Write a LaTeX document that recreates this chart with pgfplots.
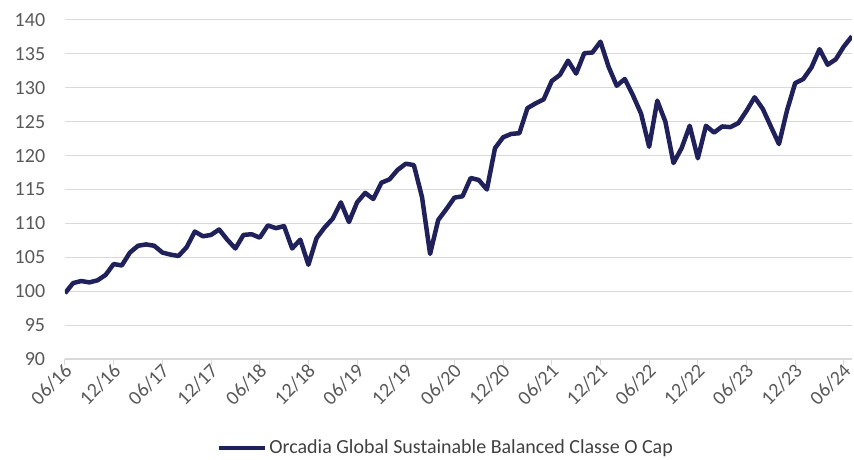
\documentclass[border=0pt]{standalone}
\usepackage{pgfplots}
\pgfplotsset{compat=1.18}
\usepackage{fontspec}
\setmainfont{Carlito}
\definecolor{navy}{RGB}{32,33,90}
\definecolor{gridgray}{RGB}{217,217,217}
\definecolor{txtgray}{RGB}{89,89,89}
\pgfplotstableread{
m v
0 99.7
1 101.2
2 101.5
3 101.3
4 101.6
5 102.4
6 104.0
7 103.8
8 105.7
9 106.7
10 106.9
11 106.7
12 105.7
13 105.4
14 105.2
15 106.5
16 108.8
17 108.1
18 108.3
19 109.1
20 107.6
21 106.3
22 108.3
23 108.4
24 107.9
25 109.7
26 109.3
27 109.6
28 106.3
29 107.6
30 103.9
31 107.8
32 109.4
33 110.7
34 113.1
35 110.2
36 113.1
37 114.5
38 113.6
39 116.0
40 116.5
41 117.9
42 118.8
43 118.6
44 113.9
45 105.5
46 110.5
47 112.1
48 113.8
49 114.0
50 116.7
51 116.4
52 115.0
53 121.1
54 122.7
55 123.2
56 123.3
57 127.0
58 127.7
59 128.3
60 131.0
61 131.9
62 134.0
63 132.1
64 135.1
65 135.2
66 136.8
67 133.1
68 130.3
69 131.3
70 128.9
71 126.2
72 121.3
73 128.1
74 125.0
75 118.9
76 121.1
77 124.4
78 119.6
79 124.4
80 123.4
81 124.3
82 124.2
83 124.8
84 126.6
85 128.6
86 126.9
87 124.3
88 121.7
89 126.7
90 130.7
91 131.3
92 133.0
93 135.7
94 133.4
95 134.2
96 136.1
97 137.6
}\datatable
\begin{document}
\fontsize{20}{24}\selectfont
\begin{tikzpicture}
\path[use as bounding box] (-65pt,-101pt) rectangle (789pt,359pt);
\begin{axis}[
  at={(0pt,0pt)}, anchor=south west,
  scale only axis,
  width=787pt, height=339pt,
  xmin=0, xmax=97, ymin=90, ymax=140,
  ytick={90,95,...,140},
  xtick={0,6,...,96},
  xticklabels={06/16,12/16,06/17,12/17,06/18,12/18,06/19,12/19,06/20,12/20,06/21,12/21,06/22,12/22,06/23,12/23,06/24},
  axis x line*=bottom, axis y line*=left,
  y axis line style={draw=none},
  x axis line style={draw=gridgray, line width=1pt},
  ymajorgrids, grid style={draw=gridgray, line width=1pt},
  tick align=outside,
  major tick length=6pt,
  x tick style={draw=gridgray, line width=1pt},
  y tick style={draw=none},
  /pgf/number format/assume math mode=true,
  ticklabel style={font=\fontsize{20}{24}\selectfont, text=txtgray},
  yticklabel style={xshift=-7pt},
  xticklabel style={rotate=45, anchor=east, xshift=3pt, yshift=-4pt, inner sep=2pt},
  legend style={at={(0.484,-0.2625)}, anchor=center, draw=none, fill=none,
    font=\fontsize{20}{24}\selectfont, text={rgb,255:red,64;green,64;blue,64}},
  legend image code/.code={\draw[#1] (0pt,0pt) -- (46pt,0pt);},
  legend cell align=left,
]
\addplot[navy, line width=4.5pt, line join=round] table[x=m, y=v] {\datatable};
\addlegendentry{Orcadia Global Sustainable Balanced Classe O Cap}
\end{axis}
\end{tikzpicture}
\end{document}
